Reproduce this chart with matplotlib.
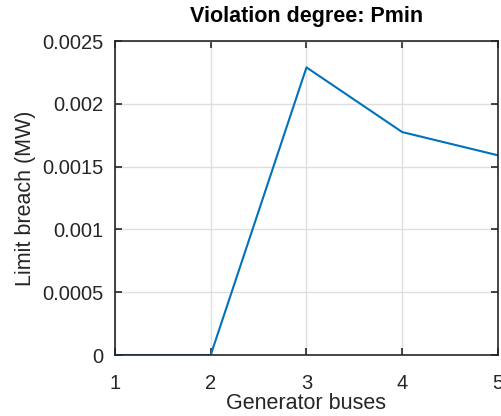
import matplotlib
matplotlib.use("Agg")
import matplotlib.pyplot as plt

# generator bus index and Pmin limit breach
buses = [1, 2, 3, 4, 5]
breach = [0, 0, 0.00229, 0.001775, 0.00159]

yticks = [0, 0.0005, 0.001, 0.0015, 0.002, 0.0025]
ytick_labels = ['0', '0.0005', '0.001', '0.0015', '0.002', '0.0025']

plt.rcParams['font.family'] = ['Liberation Sans', 'DejaVu Sans']
axcol = '#262626'

fig = plt.figure(figsize=(5.02, 4.16), dpi=100)
ax = fig.add_axes([0.229, 0.1466, 0.763, 0.7548])

ax.plot(buses, breach, color='#0072BD', lw=1.5)
ax.set_xlim(1, 5)
ax.set_ylim(0, 0.0025)
ax.set_xticks(buses)
ax.set_yticks(yticks)
ax.set_yticklabels(ytick_labels)
ax.grid(True, color='#DFDFDF', lw=1)
ax.set_axisbelow(True)

for s in ax.spines.values():
    s.set_color(axcol)
    s.set_linewidth(1.2)
ax.tick_params(direction='in', top=True, right=True, length=5, width=1.2,
               colors=axcol, labelsize=14.5)
ax.tick_params(axis='y', pad=8)
ax.tick_params(axis='x', pad=14)

ax.set_xlabel('Generator buses', fontsize=15.5, color=axcol, labelpad=0)
ax.set_ylabel('Limit breach (MW)', fontsize=15.5, color=axcol, labelpad=5)
ax.set_title('Violation degree: Pmin', fontsize=15.5, fontweight='bold', pad=14)

fig.savefig('out.png', dpi=100)
